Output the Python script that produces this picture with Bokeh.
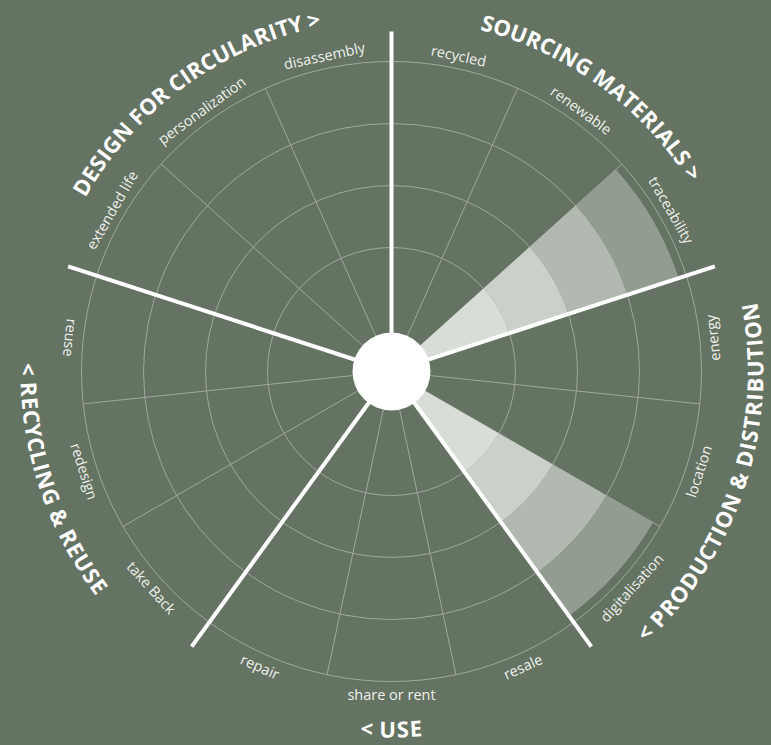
import numpy as np
from bokeh.plotting import figure
from bokeh.models import Range1d, GlobalInlineStyleSheet
from bokeh.core.properties import value
from bokeh.embed import file_html
from bokeh.resources import INLINE

# ---------------- data ----------------
categories = ["SOURCING MATERIALS >", "< PRODUCTION & DISTRIBUTION", "< USE",
              "< RECYCLING & REUSE", "DESIGN FOR CIRCULARITY >"]
subcategories = ["recycled", "renewable", "traceability",
                 "energy", "location", "digitalisation",
                 "resale", "share or rent", "repair",
                 "take Back", "redesign", "reuse",
                 "extended life", "personalization", "disassembly"]
# stacked levels per sub-category (radial units, grid rings at 2,3,4,5)
level_1 = [0, 0, 2.0, 0, 0, 2.0, 0, 0, 0, 0, 0, 0, 0, 0, 0]
level_2 = [0, 0, 1.0, 0, 0, 1.0, 0, 0, 0, 0, 0, 0, 0, 0, 0]
level_3 = [0, 0, 1.0, 0, 0, 1.0, 0, 0, 0, 0, 0, 0, 0, 0, 0]
level_4 = [0, 0, 0.87, 0, 0, 0.87, 0, 0, 0, 0, 0, 0, 0, 0, 0]
ring_values = [2, 3, 4, 5]

# ---------------- style ----------------
BG = "#657363"
GRID = "#9ea89b"
LEVEL_COLORS = ["#d9ddd8", "#cbd1ca", "#b2b9b0", "#939c91"]
UNIT = 62.0          # pixels per radial unit
R_CENTER = 39
R_SEP = 340
R_LABEL = 323
R_TITLE = [362, 363, 357, 362, 361]
TITLE_SIZE = 22
W, H = 771, 745
CX, CY = 391, 371

n_sub = len(subcategories)
n_cat = len(categories)
step = 2 * np.pi / n_sub
top_out = [True, False, False, False, True]

p = figure(width=W, height=H, output_backend="svg", toolbar_location=None,
           x_range=Range1d(-CX, W - CX), y_range=Range1d(CY - H, CY),
           min_border=0)
p.axis.visible = False
p.grid.visible = False
p.outline_line_color = None
p.background_fill_color = BG
p.border_fill_color = BG
p.stylesheets = [GlobalInlineStyleSheet(css="body{background:%s;}" % BG)]

# grid rings
p.arc(x=[0] * len(ring_values), y=[0] * len(ring_values),
      radius=[v * UNIT for v in ring_values], start_angle=0, end_angle=2 * np.pi,
      line_color=GRID, line_width=1)

# thin radial lines between sub-categories
sub_bounds = [np.pi / 2 - step * i for i in range(n_sub) if i % 3 != 0]
r_out = ring_values[-1] * UNIT
p.segment(x0=[R_CENTER * np.cos(a) for a in sub_bounds], y0=[R_CENTER * np.sin(a) for a in sub_bounds],
          x1=[r_out * np.cos(a) for a in sub_bounds], y1=[r_out * np.sin(a) for a in sub_bounds],
          line_color=GRID, line_width=1)

# stacked bands
levels = [level_1, level_2, level_3, level_4]
cum = np.zeros(n_sub)
for lv, col in zip(levels, LEVEL_COLORS):
    lv = np.array(lv, dtype=float)
    idx = np.where(lv > 0)[0]
    if len(idx):
        p.annular_wedge(x=[0] * len(idx), y=[0] * len(idx),
                        inner_radius=list(cum[idx] * UNIT),
                        outer_radius=list((cum[idx] + lv[idx]) * UNIT),
                        start_angle=[np.pi / 2 - step * (i + 1) for i in idx],
                        end_angle=[np.pi / 2 - step * i for i in idx],
                        fill_color=col, line_color=None)
    cum += lv

# category separators
cat_bounds = [np.pi / 2 - step * 3 * k for k in range(n_cat)]
p.segment(x0=[0] * n_cat, y0=[0] * n_cat,
          x1=[R_SEP * np.cos(a) for a in cat_bounds], y1=[R_SEP * np.sin(a) for a in cat_bounds],
          line_color="white", line_width=4)

# centre disc
p.scatter(x=[0], y=[0], size=2 * R_CENTER, marker="circle", fill_color="white", line_color=None)

# sub-category labels
lx, ly, lang = [], [], []
for i, s in enumerate(subcategories):
    a = np.pi / 2 - step * (i + 0.5)
    lx.append(R_LABEL * np.cos(a))
    ly.append(R_LABEL * np.sin(a))
    lang.append(a - np.pi / 2 if top_out[i // 3] else a + np.pi / 2)
p.text(x=lx, y=ly, text=subcategories, angle=lang,
       text_font=value("Open Sans"), text_font_size="14.5px", text_color="#eef0ec",
       text_align="center", text_baseline="middle")

# curved category titles
CW = {" ": .26, "&": .78, "<": .57, ">": .57, "A": .72, "B": .71, "C": .645, "D": .77,
      "E": .59, "F": .56, "G": .75, "H": .79, "I": .37, "L": .57, "M": .97, "N": .83,
      "O": .80, "P": .68, "R": .70, "S": .60, "T": .60, "U": .78, "Y": .61}
tx, ty, tt, ta = [], [], [], []
for k, title in enumerate(categories):
    mid = np.pi / 2 - step * (3 * k + 1.5)
    rt = R_TITLE[k]
    widths = np.array([CW.get(c, .6) * TITLE_SIZE for c in title])
    total = widths.sum()
    centers = np.cumsum(widths) - widths / 2
    for c, cpos in zip(title, centers):
        off = (total / 2 - cpos) / rt
        if top_out[k]:
            a = mid + off
            rot = a - np.pi / 2
        else:
            a = mid - off
            rot = a + np.pi / 2
        if c == " ":
            continue
        tx.append(rt * np.cos(a))
        ty.append(rt * np.sin(a))
        tt.append(c)
        ta.append(rot)
p.text(x=tx, y=ty, text=tt, angle=ta,
       text_font=value("Open Sans"), text_font_style="bold",
       text_font_size="%dpx" % TITLE_SIZE, text_color="white",
       text_align="center", text_baseline="middle")

open("out.html", "w").write(file_html(p, INLINE))
